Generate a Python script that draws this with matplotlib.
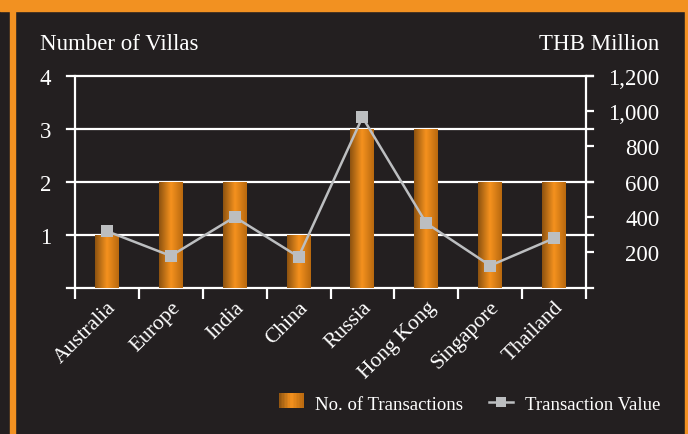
import numpy as np
import matplotlib
matplotlib.use("Agg")
import matplotlib.pyplot as plt
from matplotlib.colors import LinearSegmentedColormap
from matplotlib.patches import Rectangle
from matplotlib.lines import Line2D
from matplotlib.legend_handler import HandlerBase

plt.rcParams['font.family'] = ['Liberation Serif', 'DejaVu Serif']

# data
countries = ['Australia', 'Europe', 'India', 'China', 'Russia', 'Hong Kong', 'Singapore', 'Thailand']
villas = [1, 2, 2, 1, 3, 3, 2, 2]
value_thb = [320, 180, 400, 175, 965, 365, 125, 280]
left_ticks = [1, 2, 3, 4]
right_ticks = [200, 400, 600, 800, 1000, 1200]

bg = '#231f20'
orange = '#f29121'
grey = '#bcbec0'
grad = LinearSegmentedColormap.from_list(
    'bar', [(0, '#8e5310'), (0.5, '#f5921e'), (1, '#b9690f')])

W, H = 688, 435
fig = plt.figure(figsize=(W / 100, H / 100), dpi=100, facecolor=bg)

# orange frame pieces
fig.patches.append(Rectangle((0, 1 - 12 / H), 1, 12 / H, transform=fig.transFigure,
                             color=orange, zorder=0))
fig.patches.append(Rectangle((9.5 / W, 0), 5.5 / W, 1 - 12 / H, transform=fig.transFigure,
                             color=orange, zorder=0))
fig.patches.append(Rectangle((685 / W, 0), 3 / W, 1, transform=fig.transFigure,
                             color=orange, zorder=0))

x0, x1 = 75 / W, 586 / W
y0, y1 = 1 - 288.7 / H, 1 - 76.7 / H
ax = fig.add_axes([x0, y0, x1 - x0, y1 - y0])
ax.set_facecolor('none')
ax2 = ax.twinx()

x = np.arange(len(countries))
bars = ax.bar(x, villas, width=0.375, color='none', zorder=2)
gimg = np.linspace(0, 1, 64).reshape(1, -1)
for b in bars:
    bx, by = b.get_xy()
    im = ax.imshow(gimg, cmap=grad, aspect='auto', zorder=2,
                   extent=[bx, bx + b.get_width(), by, by + b.get_height()])
    im.set_clip_path(b)

ax.set_xlim(-0.5, len(countries) - 0.5)
ax.set_ylim(0, 4)
ax2.set_ylim(0, 1200)

# grid lines (extend a bit past both spines)
for v in [0] + left_ticks:
    ax.axhline(v, xmin=-8 / 511, xmax=1 + 7 / 511, color='white', lw=1.6,
               clip_on=False, zorder=1)

for a in (ax, ax2):
    for s in a.spines.values():
        s.set_visible(False)
ax.spines['left'].set_visible(True)
ax.spines['left'].set_color('white')
ax.spines['left'].set_linewidth(1.6)
ax2.spines['right'].set_visible(True)
ax2.spines['right'].set_color('white')
ax2.spines['right'].set_linewidth(1.6)

ax.set_yticks(left_ticks)
ax.set_yticklabels([str(t) for t in left_ticks])
ax.tick_params(axis='y', length=0, pad=17, labelsize=16.5, labelcolor='white')

ax2.set_yticks(right_ticks)
ax2.set_yticklabels([f'{t:,}' for t in right_ticks], ha='right')
ax2.tick_params(axis='y', length=6, width=1.6, color='white', direction='out',
                pad=47, labelsize=16.5, labelcolor='white')

ax.set_xticks(x)
ax.set_xticklabels(countries, rotation=45, ha='right', rotation_mode='anchor')
ax.tick_params(axis='x', length=0, pad=7, labelsize=15.5, labelcolor='white')
ax.set_xticks(np.arange(-0.5, len(countries)), minor=True)
ax.tick_params(axis='x', which='minor', length=8, width=1.6, color='white', direction='out')

ax2.plot(x, value_thb, color=grey, lw=1.8, marker='s', markersize=8.8,
         markeredgewidth=0, zorder=3)

fig.text(40 / W, 1 - 44 / H, 'Number of Villas', color='white', fontsize=16.5, va='center')
fig.text(659 / W, 1 - 44 / H, 'THB Million', color='white', fontsize=16.5,
         va='center', ha='right')


class GradientHandler(HandlerBase):
    def create_artists(self, legend, orig, xd, yd, width, height, fontsize, trans):
        n = 16
        out = []
        for i in range(n):
            r = Rectangle((xd + width * i / n, yd), width / n + 0.3, height,
                          facecolor=grad((i + 0.5) / n), edgecolor='none', transform=trans)
            out.append(r)
        return out


h_bar = Rectangle((0, 0), 1, 1)
h_line = Line2D([], [], color=grey, lw=1.8, marker='s', markersize=7, markeredgewidth=0)
leg = fig.legend([h_bar, h_line], ['No. of Transactions', 'Transaction Value'],
                 handler_map={Rectangle: GradientHandler()},
                 loc='center right', bbox_to_anchor=(660 / W, 1 - 405 / H),
                 ncol=2, frameon=False, fontsize=13.5, labelcolor='white',
                 handlelength=1.3, handleheight=0.85, handletextpad=0.6,
                 columnspacing=1.4, borderpad=0, borderaxespad=0)

fig.savefig('out.png', dpi=100, facecolor=bg)
